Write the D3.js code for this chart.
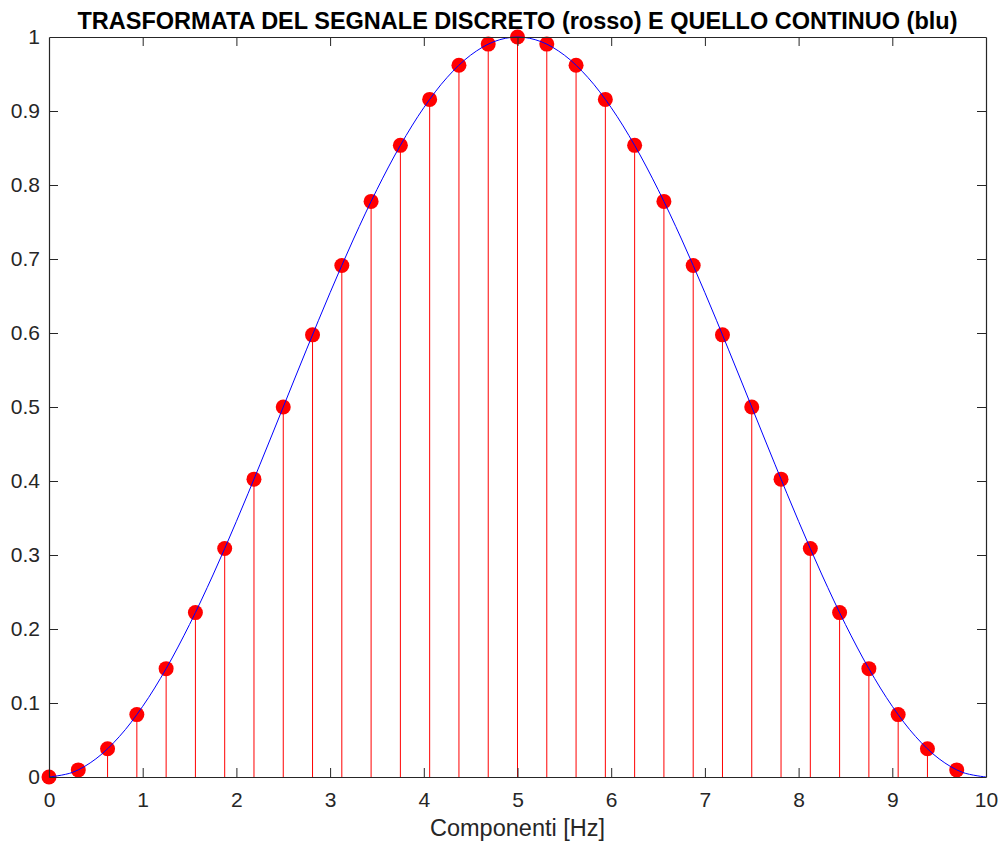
<!DOCTYPE html>
<html>
<head>
<meta charset="utf-8">
<script src="https://cdn.jsdelivr.net/npm/d3@7"></script>
<style>
  html, body { margin: 0; padding: 0; background: #fff; }
  svg { display: block; font-family: "Liberation Sans", Arial, Helvetica, sans-serif; }
</style>
</head>
<body>
<svg id="chart" width="1002" height="846"></svg>
<script>
// Discrete spectrum samples (red stems) — frequency in Hz and magnitude
const discreteFreq = [
  0, 0.3125, 0.625, 0.9375, 1.25, 1.5625, 1.875, 2.1875,
  2.5, 2.8125, 3.125, 3.4375, 3.75, 4.0625, 4.375, 4.6875,
  5, 5.3125, 5.625, 5.9375, 6.25, 6.5625, 6.875, 7.1875,
  7.5, 7.8125, 8.125, 8.4375, 8.75, 9.0625, 9.375, 9.6875
];
const discreteMag = [
  0, 0.0096, 0.0381, 0.0843, 0.1464, 0.2222, 0.3087, 0.4025,
  0.5, 0.5975, 0.6913, 0.7778, 0.8536, 0.9157, 0.9619, 0.9904,
  1, 0.9904, 0.9619, 0.9157, 0.8536, 0.7778, 0.6913, 0.5975,
  0.5, 0.4025, 0.3087, 0.2222, 0.1464, 0.0843, 0.0381, 0.0096
];

// Continuous transform (blue curve)
const continuousFreq = [
  0, 0.25, 0.5, 0.75, 1, 1.25, 1.5, 1.75, 2, 2.25,
  2.5, 2.75, 3, 3.25, 3.5, 3.75, 4, 4.25, 4.5, 4.75,
  5, 5.25, 5.5, 5.75, 6, 6.25, 6.5, 6.75, 7, 7.25,
  7.5, 7.75, 8, 8.25, 8.5, 8.75, 9, 9.25, 9.5, 9.75, 10
];
const continuousMag = [
  0, 0.0062, 0.0245, 0.0545, 0.0955, 0.1464, 0.2061, 0.2730, 0.3455, 0.4218,
  0.5, 0.5782, 0.6545, 0.7270, 0.7939, 0.8536, 0.9045, 0.9455, 0.9755, 0.9938,
  1, 0.9938, 0.9755, 0.9455, 0.9045, 0.8536, 0.7939, 0.7270, 0.6545, 0.5782,
  0.5, 0.4218, 0.3455, 0.2730, 0.2061, 0.1464, 0.0955, 0.0545, 0.0245, 0.0062, 0
];

const xTicks = [0, 1, 2, 3, 4, 5, 6, 7, 8, 9, 10];
const yTicks = [0, 0.1, 0.2, 0.3, 0.4, 0.5, 0.6, 0.7, 0.8, 0.9, 1];
const yTickLabels = ["0", "0.1", "0.2", "0.3", "0.4", "0.5", "0.6", "0.7", "0.8", "0.9", "1"];

const titleText = "TRASFORMATA DEL SEGNALE DISCRETO (rosso) E QUELLO CONTINUO (blu)";
const xLabelText = "Componenti [Hz]";

const svg = d3.select("#chart");
const plot = { left: 49, top: 37, right: 986, bottom: 777 };
const axisColor = "#262626";

const x = d3.scaleLinear().domain([0, 10]).range([plot.left, plot.right]);
const y = d3.scaleLinear().domain([0, 1]).range([plot.bottom, plot.top]);

const data = discreteFreq.map((f, i) => ({ f, m: discreteMag[i] }));
const curve = continuousFreq.map((f, i) => ({ f, m: continuousMag[i] }));

// Stems
svg.append("g")
  .selectAll("line")
  .data(data)
  .join("line")
  .attr("x1", d => x(d.f)).attr("x2", d => x(d.f))
  .attr("y1", y(0)).attr("y2", d => y(d.m))
  .attr("stroke", "#ff0000")
  .attr("stroke-width", 1);

// Stem heads
svg.append("g")
  .selectAll("circle")
  .data(data)
  .join("circle")
  .attr("cx", d => x(d.f))
  .attr("cy", d => y(d.m))
  .attr("r", 7.5)
  .attr("fill", "#ff0000");

// Continuous curve
svg.append("path")
  .datum(curve)
  .attr("fill", "none")
  .attr("stroke", "#0000ff")
  .attr("stroke-width", 1)
  .attr("d", d3.line().x(d => x(d.f)).y(d => y(d.m)).curve(d3.curveCatmullRom.alpha(0.5)));

// Axes (box with inward ticks on all sides)
const tickLen = 9;
const fmtY = d => yTickLabels[yTicks.indexOf(d)];

const bottomAxis = svg.append("g")
  .attr("transform", `translate(0,${plot.bottom})`)
  .call(d3.axisBottom(x).tickValues(xTicks).tickSize(-tickLen).tickPadding(15).tickSizeOuter(0).tickFormat(d3.format("d")));
const topAxis = svg.append("g")
  .attr("transform", `translate(0,${plot.top})`)
  .call(d3.axisTop(x).tickValues(xTicks).tickSize(-tickLen).tickSizeOuter(0).tickFormat(""));
const leftAxis = svg.append("g")
  .attr("transform", `translate(${plot.left},0)`)
  .call(d3.axisLeft(y).tickValues(yTicks).tickSize(-tickLen).tickPadding(9).tickSizeOuter(0).tickFormat(fmtY));
const rightAxis = svg.append("g")
  .attr("transform", `translate(${plot.right},0)`)
  .call(d3.axisRight(y).tickValues(yTicks).tickSize(-tickLen).tickSizeOuter(0).tickFormat(""));

[bottomAxis, topAxis, leftAxis, rightAxis].forEach(g => {
  g.select(".domain").attr("stroke", axisColor).attr("stroke-width", 1.2);
  g.selectAll(".tick line").attr("stroke", axisColor).attr("stroke-width", 1);
  g.selectAll(".tick text")
    .attr("fill", axisColor)
    .attr("font-size", 21)
    .attr("font-family", "Liberation Sans, Arial, sans-serif");
});
// Hide end ticks that coincide with the box edges
[bottomAxis, topAxis].forEach(g => g.selectAll(".tick line").filter(d => d === 0 || d === 10).remove());
[leftAxis, rightAxis].forEach(g => g.selectAll(".tick line").filter(d => d === 0 || d === 1).remove());

// Title
svg.append("text")
  .attr("x", (plot.left + plot.right) / 2)
  .attr("y", 29)
  .attr("text-anchor", "middle")
  .attr("font-size", 23.5)
  .attr("font-weight", "bold")
  .attr("fill", "#000")
  .text(titleText);

// X axis label
svg.append("text")
  .attr("x", (plot.left + plot.right) / 2)
  .attr("y", 836)
  .attr("text-anchor", "middle")
  .attr("font-size", 23.5)
  .attr("fill", axisColor)
  .text(xLabelText);
</script>
</body>
</html>
